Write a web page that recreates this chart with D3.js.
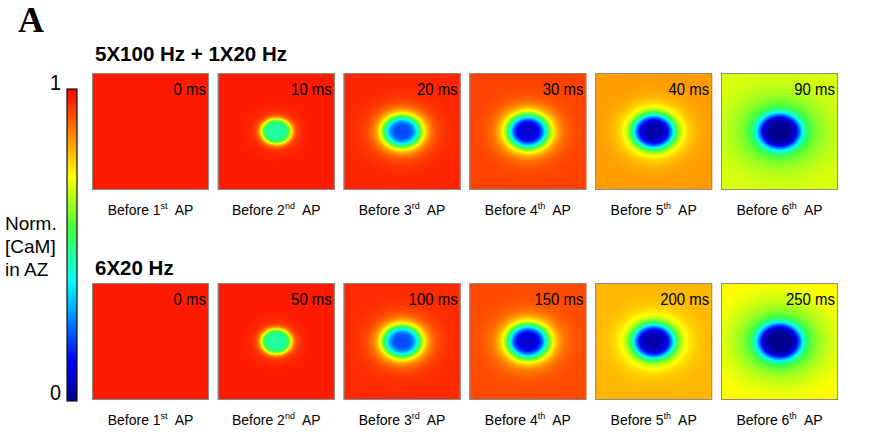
<!DOCTYPE html>
<html>
<head>
<meta charset="utf-8">
<script src="https://cdn.jsdelivr.net/npm/d3@7"></script>
<style>
  html, body { margin: 0; padding: 0; background: #fff; }
  svg { display: block; }
  text { font-family: "Liberation Sans", Arial, sans-serif; fill: #000; }
</style>
</head>
<body>
<script>
// ---- data ---------------------------------------------------------------
const rowTitles = ["5X100 Hz + 1X20 Hz", "6X20 Hz"];
const timesTop = [0, 10, 20, 30, 40, 90];
const timesBottom = [0, 50, 100, 150, 200, 250];
const apNumbers = [1, 2, 3, 4, 5, 6];
const apSuffixes = ["st", "nd", "rd", "th", "th", "th"];

// Normalised [CaM] in the active zone (AZ = 100 grid units across).
// far: level away from the channel cluster; centre: level at the cluster;
// coreRadius / coreSteepness: sharp depleted core; haloWeight / haloRadius:
// share and width of the broad depletion tail around it.
const farTop = [0.97, 0.97, 0.96, 0.93, 0.83, 0.69];
const centreTop = [0.97, 0.46, 0.20, 0.07, 0.03, 0.00];
const coreRadiusTop = [1, 10.7, 13.2, 13.8, 14.3, 15.0];
const coreSteepnessTop = [1, 8, 5, 5, 6, 7];
const haloWeightTop = [0, 0.10, 0.15, 0.20, 0.25, 0.28];
const haloRadiusTop = [1, 14.3, 18.5, 18.5, 20, 28];

const farBottom = [0.97, 0.97, 0.955, 0.92, 0.80, 0.73];
const centreBottom = [0.97, 0.46, 0.20, 0.07, 0.03, 0.00];
const coreRadiusBottom = [1, 10.7, 13.2, 13.8, 14.4, 15.4];
const coreSteepnessBottom = [1, 8, 5, 5, 6, 7];
const haloWeightBottom = [0, 0.10, 0.15, 0.20, 0.25, 0.30];
const haloRadiusBottom = [1, 14.3, 18.5, 18.5, 20.5, 31];

const colorStops = [0, 0.13, 0.38, 0.55, 0.72, 0.86, 1];
const colorRange = ["#00008a", "#0000ff", "#00ffff", "#40ff40", "#ffff00", "#ff8000", "#ff0000"];
const barTicks = [0, 1];

// ---- layout -------------------------------------------------------------
const W = 882, H = 433;
const panelSize = 117;
const firstPanelX = 92, panelPitch = 125.8;
const rowTop = [73, 283];
const aspect = 1.2;   // spots are slightly wider than tall
const gridSpan = 100;

const color = d3.scaleLinear().domain(colorStops).range(colorRange)
  .interpolate(d3.interpolateRgb).clamp(true);

const svg = d3.select("body").append("svg").attr("width", W).attr("height", H);

// panel letter
svg.append("text").attr("x", 18).attr("y", 32)
  .style("font-family", "'Liberation Serif', 'Times New Roman', serif")
  .style("font-weight", "bold").style("font-size", "36px").text("A");

// ---- colour bar -----------------------------------------------------------
const barX = 67, barW = 10;
const barY = d3.scaleLinear().domain([0, 1]).range([401, 89]);
const grad = svg.append("defs").append("linearGradient")
  .attr("id", "camGrad").attr("x1", 0).attr("y1", 1).attr("x2", 0).attr("y2", 0);
d3.range(0, 1.0001, 0.02).forEach(t => {
  grad.append("stop").attr("offset", t).attr("stop-color", color(t));
});
svg.append("rect").attr("x", barX).attr("y", barY(1)).attr("width", barW)
  .attr("height", barY(0) - barY(1)).attr("fill", "url(#camGrad)")
  .attr("stroke", "#111").attr("stroke-width", 1.2);
svg.selectAll("text.barTick").data(barTicks).enter().append("text")
  .attr("class", "barTick")
  .attr("x", 61).attr("y", d => barY(d) + (d === 1 ? 1 : -1))
  .attr("text-anchor", "end").style("font-size", "22px")
  .attr("transform", "translate(61,0) scale(0.9,1) translate(-61,0)")
  .text(d => d);
const barLabel = svg.append("text").style("font-size", "19px");
["Norm.", "[CaM]", "in AZ"].forEach((s, i) => {
  barLabel.append("tspan").attr("x", 5).attr("y", 230 + i * 23).text(s);
});

// ---- field rendering ----------------------------------------------------
function fieldImage(p) {
  const canvas = document.createElement("canvas");
  canvas.width = panelSize; canvas.height = panelSize;
  const ctx = canvas.getContext("2d");
  const img = ctx.createImageData(panelSize, panelSize);
  const gx = d3.scaleLinear().domain([0, panelSize]).range([-gridSpan / 2, gridSpan / 2]);
  const kc = Math.pow(p.core, p.steep);
  for (let j = 0; j < panelSize; j++) {
    for (let i = 0; i < panelSize; i++) {
      const x = gx(i + 0.5) / aspect, y = gx(j + 0.5);
      const r = Math.sqrt(x * x + y * y);
      const core = kc / (kc + Math.pow(r, p.steep));
      const halo = Math.exp(-(r * r) / (p.haloR * p.haloR));
      const depletion = (1 - p.haloW) * core + p.haloW * halo;
      const v = p.far - (p.far - p.centre) * depletion;
      const c = d3.rgb(color(v));
      const k = 4 * (j * panelSize + i);
      img.data[k] = c.r; img.data[k + 1] = c.g; img.data[k + 2] = c.b; img.data[k + 3] = 255;
    }
  }
  ctx.putImageData(img, 0, 0);
  return canvas.toDataURL();
}

const rows = [
  { title: rowTitles[0], times: timesTop, far: farTop, centre: centreTop,
    core: coreRadiusTop, steep: coreSteepnessTop, haloW: haloWeightTop, haloR: haloRadiusTop },
  { title: rowTitles[1], times: timesBottom, far: farBottom, centre: centreBottom,
    core: coreRadiusBottom, steep: coreSteepnessBottom, haloW: haloWeightBottom, haloR: haloRadiusBottom }
];

const xPanel = d3.scaleLinear().domain([0, 1]).range([firstPanelX, firstPanelX + panelPitch]);

rows.forEach((row, ri) => {
  const top = rowTop[ri];
  svg.append("text").attr("x", 95).attr("y", top - (ri === 0 ? 12 : 8))
    .style("font-weight", "bold").style("font-size", "20.5px").text(row.title);

  const panels = svg.append("g").selectAll("g.panel").data(d3.range(row.times.length)).enter()
    .append("g").attr("class", "panel")
    .attr("transform", i => `translate(${xPanel(i)},${top})`);

  panels.append("image")
    .attr("width", panelSize).attr("height", panelSize)
    .attr("preserveAspectRatio", "none")
    .attr("href", i => fieldImage({
      far: row.far[i], centre: row.centre[i], core: row.core[i],
      steep: row.steep[i], haloW: row.haloW[i], haloR: row.haloR[i]
    }));
  panels.append("rect").attr("x", 0.5).attr("y", 0.5)
    .attr("width", panelSize - 1).attr("height", panelSize - 1)
    .attr("fill", "none").attr("stroke", "#8a8a8a").attr("stroke-width", 1);

  panels.append("text")
    .attr("transform", `translate(${panelSize - 3},22) scale(0.88,1)`)
    .attr("text-anchor", "end").style("font-size", "17px")
    .text(i => `${row.times[i]} ms`);

  const lab = panels.append("text")
    .attr("x", panelSize / 2).attr("y", 142)
    .attr("text-anchor", "middle").style("font-size", "14px");
  lab.append("tspan").text(i => `Before ${apNumbers[i]}`);
  lab.append("tspan").attr("dy", -6).style("font-size", "9px").text(i => apSuffixes[i]);
  lab.append("tspan").attr("dy", 6).text("\u00a0 AP");
});
</script>
</body>
</html>
